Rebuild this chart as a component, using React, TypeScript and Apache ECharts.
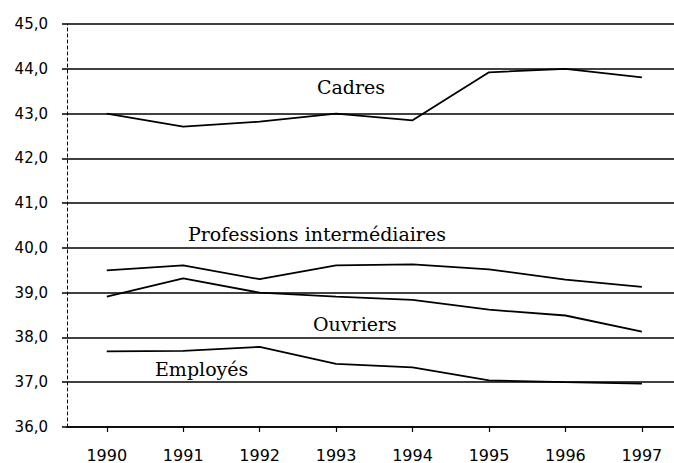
import React, { useEffect, useRef } from "react";
import * as echarts from "echarts";

const years = [1990, 1991, 1992, 1993, 1994, 1995, 1996, 1997];
const cadres = [43.0, 42.71, 42.82, 43.0, 42.85, 43.92, 44.0, 43.81];
const professions = [39.5, 39.61, 39.3, 39.61, 39.63, 39.52, 39.29, 39.13];
const ouvriers = [38.91, 39.32, 39.0, 38.91, 38.84, 38.62, 38.49, 38.13];
const employes = [37.69, 37.7, 37.79, 37.41, 37.33, 37.04, 37.0, 36.97];
const yTicks = [36, 37, 38, 39, 40, 41, 42, 43, 44, 45];
const seriesNames = ["Cadres", "Professions intermédiaires", "Ouvriers", "Employés"];

export default function App() {
  const ref = useRef<HTMLDivElement>(null);
  useEffect(() => {
    if (!ref.current) return;
    const chart = echarts.init(ref.current, null, { renderer: "svg" });
    const allSeries = [cadres, professions, ouvriers, employes];
    const labelFont = "19px 'DejaVu Serif'";
    chart.setOption({
      animation: false,
      backgroundColor: "#ffffff",
      grid: { left: 67, right: 0, top: 24, bottom: 31 },
      xAxis: {
        type: "value",
        min: 1989.48,
        max: 1997.42,
        axisLine: { show: true, lineStyle: { color: "#000", width: 1.5 } },
        axisTick: {
          show: true,
          customValues: years,
          length: 5,
          lineStyle: { color: "#000", width: 1.2 },
        },
        axisLabel: {
          customValues: years,
          formatter: (v: number) => String(v),
          color: "#000",
          fontFamily: "DejaVu Sans",
          fontSize: 16,
          margin: 20,
        },
        splitLine: { show: false },
      },
      yAxis: {
        type: "value",
        min: yTicks[0],
        max: yTicks[yTicks.length - 1],
        interval: 1,
        axisLine: { show: true, lineStyle: { color: "#000", width: 1, type: [3, 3] } },
        axisTick: { show: true, length: 5, lineStyle: { color: "#000", width: 1.5 } },
        axisLabel: {
          formatter: (v: number) => v.toFixed(1).replace(".", ","),
          color: "#000",
          fontFamily: "DejaVu Sans",
          fontSize: 15,
          margin: 19,
        },
        splitLine: { show: true, lineStyle: { color: "#000", width: 1.5 } },
      },
      series: allSeries.map((d, i) => ({
        name: seriesNames[i],
        type: "line",
        data: d.map((v, j) => [years[j], v]),
        symbol: "none",
        lineStyle: { color: "#000", width: 1.8 },
      })),
      graphic: [
        { type: "text", left: 317, top: 77, style: { text: "Cadres", font: labelFont, fill: "#000" } },
        { type: "text", left: 188, top: 224, style: { text: "Professions intermédiaires", font: labelFont, fill: "#000" } },
        { type: "text", left: 313, top: 314, style: { text: "Ouvriers", font: labelFont, fill: "#000" } },
        { type: "text", left: 155, top: 359, style: { text: "Employés", font: labelFont, fill: "#000" } },
      ],
    });
    return () => chart.dispose();
  }, []);
  return <div ref={ref} style={{ width: 674, height: 463, position: "absolute", left: 0, top: 0 }} />;
}
